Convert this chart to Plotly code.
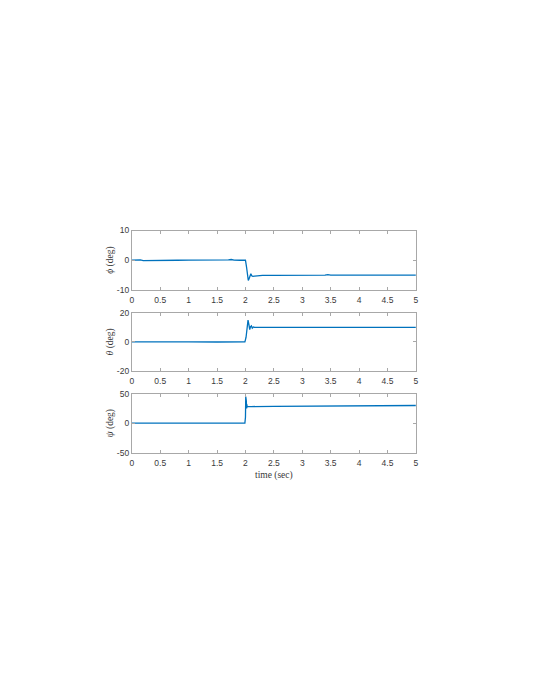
import plotly.graph_objects as go

# ---- data ----
t_phi = [0, 0.1, 0.15, 0.2, 0.3, 0.5, 0.8, 1.0, 1.3, 1.5, 1.7, 1.75, 1.8, 1.9, 2.0,
         2.02, 2.035, 2.05, 2.065, 2.08, 2.095, 2.11, 2.13, 2.16, 2.2, 2.3, 2.5, 3.0,
         3.4, 3.45, 3.5, 4.0, 4.5, 5.0]
phi = [0, 0.05, 0.1, -0.15, -0.1, 0, -0.05, 0, -0.05, -0.1, 0.05, 0.2, 0.0, -0.05, -0.05,
       -2.5, -5.5, -6.9, -6.2, -4.8, -4.6, -5.3, -5.5, -5.4, -5.3, -5.2, -5.2, -5.2,
       -5.1, -4.9, -5.1, -5.1, -5.1, -5.1]

t_theta = [0, 0.3, 0.6, 1.0, 1.5, 1.9, 1.99, 2.01, 2.03, 2.045, 2.06, 2.075, 2.09,
           2.105, 2.12, 2.14, 2.16, 2.2, 2.5, 3.0, 4.0, 5.0]
theta = [0, 0.1, -0.1, 0, -0.1, 0, 0, 3, 11, 15, 12, 8.5, 10.5, 11, 9.5, 10.3, 10.0,
         10, 10, 10, 10, 10]

t_psi = [0, 1, 1.99, 2.0, 2.005, 2.01, 2.015, 2.02, 2.025, 2.03, 2.04, 2.06, 2.1,
         2.5, 3.0, 4.0, 5.0]
psi = [0, 0, 0, 10, 45, 22, 38, 25, 32, 27, 28.5, 28, 28.2, 28.6, 29, 29.6, 30]

x_ticks = [0, 0.5, 1, 1.5, 2, 2.5, 3, 3.5, 4, 4.5, 5]
x_ticklabels = ["0", "0.5", "1", "1.5", "2", "2.5", "3", "3.5", "4", "4.5", "5"]
y_ticks_phi = [-10, 0, 10]
y_ticks_theta = [-20, 0, 20]
y_ticks_psi = [-50, 0, 50]

y_labels = ["<i>ϕ</i> (deg)", "<i>θ</i> (deg)", "<i>ψ</i> (deg)"]
x_label = "time (sec)"

# ---- figure ----
W, H = 536, 693
OFF = 8  # page body margin offset
line_color = "#0072BD"
axis_color = "#a8a8a8"
tick_font = dict(family="Liberation Sans, Arial, sans-serif", size=8.5, color="#3a3a3a")
label_font = dict(family="Liberation Serif, Times New Roman, serif", size=9.5, color="#3a3a3a")

x_dom = [(131 - OFF) / W, (417.7 - OFF) / W]
panels = [(228.7, 288.7), (312.3, 371.0), (394.3, 454.0)]
y_doms = [[1 - (b - OFF) / H, 1 - (t - OFF) / H] for (t, b) in panels]

series = [(t_phi, phi, y_ticks_phi), (t_theta, theta, y_ticks_theta), (t_psi, psi, y_ticks_psi)]

fig = go.Figure()
layout = dict(
    width=W, height=H,
    margin=dict(l=0, r=0, t=0, b=0),
    paper_bgcolor="white", plot_bgcolor="white",
    showlegend=False,
)

for i, (tx, vy, yt) in enumerate(series):
    n = "" if i == 0 else str(i + 1)
    fig.add_trace(go.Scatter(x=tx, y=vy, mode="lines",
                             line=dict(color=line_color, width=1.3),
                             xaxis="x" + n, yaxis="y" + n))
    layout["xaxis" + n] = dict(
        domain=x_dom, anchor="y" + n, range=[0, 5],
        tickmode="array", tickvals=x_ticks, ticktext=x_ticklabels,
        ticks="inside", ticklen=3, tickcolor=axis_color, tickwidth=1,
        showline=True, linecolor=axis_color, linewidth=1, mirror="ticks",
        showgrid=False, zeroline=False, tickfont=tick_font, ticklabelstandoff=2,
    )
    if i == 2:
        layout["xaxis" + n]["title"] = dict(text=x_label, font=label_font, standoff=4)
    layout["yaxis" + n] = dict(
        domain=y_doms[i], anchor="x" + n, range=[yt[0], yt[-1]],
        tickmode="array", tickvals=yt, ticktext=[str(v) for v in yt],
        ticks="inside", ticklen=3, tickcolor=axis_color, tickwidth=1,
        showline=True, linecolor=axis_color, linewidth=1, mirror="ticks",
        showgrid=False, zeroline=False, tickfont=tick_font,
        title=dict(text=y_labels[i], font=label_font, standoff=1),
    )

fig.update_layout(**layout)
fig.write_html("out.html")
